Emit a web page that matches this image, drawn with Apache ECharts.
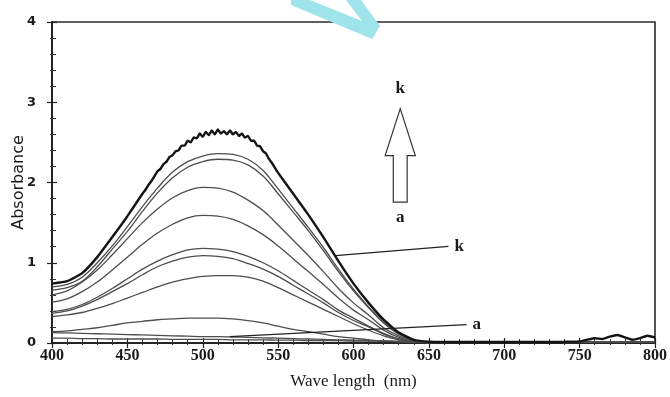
<!DOCTYPE html>
<html>
<head>
<meta charset="utf-8">
<script src="https://cdn.jsdelivr.net/npm/echarts@6/dist/echarts.min.js"></script>
<style>
  html, body { margin: 0; padding: 0; background: #fff; }
  #chart { width: 670px; height: 397px; }
</style>
</head>
<body>
<div id="chart"></div>
<script>
// Wavelength grid (nm) shared by the titration spectra a..j
const wave = [400,410,420,430,440,450,460,470,480,490,500,510,520,530,540,550,560,570,580,590,600,610,620,630,640,650,700,750,800];

// Absorbance of each spectrum, lowest (a) to highest (j)
const specA = [0.13,0.125,0.12,0.115,0.11,0.105,0.10,0.095,0.09,0.085,0.08,0.08,0.075,0.07,0.065,0.06,0.055,0.05,0.045,0.04,0.035,0.03,0.025,0.02,0.015,0.012,0.01,0.01,0.01];
const specB = [0.06,0.06,0.055,0.055,0.05,0.05,0.05,0.05,0.045,0.045,0.045,0.045,0.04,0.04,0.04,0.035,0.035,0.03,0.03,0.03,0.025,0.025,0.02,0.02,0.015,0.012,0.01,0.01,0.01];
const specC = [0.14,0.15,0.17,0.19,0.22,0.25,0.27,0.29,0.30,0.31,0.31,0.31,0.30,0.28,0.25,0.21,0.17,0.14,0.11,0.08,0.06,0.04,0.025,0.015,0.01,0.005,0.01,0.01,0.01];
const specD = [0.33,0.35,0.38,0.43,0.49,0.56,0.63,0.70,0.76,0.80,0.83,0.84,0.84,0.82,0.77,0.69,0.60,0.51,0.42,0.33,0.24,0.16,0.09,0.04,0.013,0.005,0.01,0.01,0.01];
const specE = [0.37,0.40,0.46,0.54,0.64,0.74,0.85,0.95,1.02,1.07,1.09,1.08,1.05,0.99,0.92,0.83,0.72,0.61,0.50,0.38,0.28,0.20,0.11,0.05,0.016,0.005,0.01,0.01,0.01];
const specF = [0.39,0.42,0.48,0.57,0.68,0.80,0.92,1.02,1.10,1.16,1.18,1.17,1.14,1.08,1.00,0.90,0.78,0.66,0.54,0.41,0.31,0.21,0.12,0.05,0.018,0.006,0.01,0.01,0.01];
const specG = [0.51,0.55,0.64,0.76,0.91,1.07,1.23,1.37,1.48,1.56,1.59,1.58,1.54,1.46,1.35,1.21,1.05,0.89,0.73,0.56,0.41,0.29,0.16,0.07,0.024,0.008,0.01,0.01,0.01];
const specH = [0.60,0.65,0.76,0.91,1.10,1.30,1.50,1.67,1.81,1.90,1.94,1.93,1.88,1.78,1.65,1.47,1.28,1.09,0.89,0.68,0.50,0.35,0.19,0.09,0.03,0.01,0.01,0.01,0.01];
const specI = [0.66,0.69,0.77,0.95,1.17,1.39,1.64,1.87,2.06,2.19,2.26,2.29,2.28,2.22,2.08,1.86,1.63,1.40,1.15,0.89,0.65,0.44,0.25,0.11,0.034,0.014,0.012,0.012,0.012];
const specJ = [0.70,0.73,0.82,1.00,1.21,1.45,1.70,1.93,2.13,2.26,2.33,2.36,2.35,2.29,2.15,1.92,1.68,1.44,1.19,0.92,0.67,0.45,0.26,0.12,0.035,0.014,0.012,0.012,0.012];

// Final spectrum k, sampled finely (noisy near the maximum and in the far red)
const kWave = [400,410,420,430,440,450,460,462,464,466,468,470,472,474,476,478,480,482,484,486,488,490,492,494,496,498,500,502,504,506,508,510,512,514,516,518,520,522,524,526,528,530,532,534,536,538,540,542,544,546,548,550,560,570,580,590,600,610,620,630,640,650,660,700,740,750,755,760,765,770,775,780,785,790,795,800];
const kAbs  = [0.74,0.77,0.87,1.07,1.32,1.58,1.86,1.91,1.97,2.02,2.08,2.14,2.17,2.23,2.26,2.32,2.34,2.39,2.40,2.46,2.46,2.52,2.50,2.56,2.55,2.61,2.57,2.63,2.59,2.65,2.60,2.66,2.61,2.64,2.60,2.65,2.60,2.63,2.58,2.61,2.56,2.58,2.52,2.52,2.46,2.45,2.39,2.36,2.29,2.24,2.18,2.12,1.86,1.60,1.32,1.02,0.74,0.50,0.29,0.13,0.04,0.015,0.012,0.012,0.015,0.02,0.04,0.06,0.05,0.08,0.10,0.07,0.04,0.06,0.09,0.07];

// Axis ticks
const xTicks = { min: 400, max: 800, step: 50 };
const yTicks = { min: 0, max: 4, step: 1 };

// Curve labels with their leader lines: [start point on curve, end point near text]
const leaders = [
  { name: 'k', from: [588, 1.09], to: [663, 1.205] },
  { name: 'a', from: [518, 0.08], to: [675, 0.23] }
];

// Up arrow marking the direction of increasing absorbance (a -> k)
const arrowSpec = { x: 631, tip: 2.92, headBase: 2.335, tail: 1.755, headHalf: 10, shaftHalf: 4.6, topLabel: 'k', bottomLabel: 'a', topY: 3.17, bottomY: 1.565 };

const pairs = (xs, ys) => xs.map((x, i) => [x, ys[i]]);

const grayCurves = [specA, specB, specC, specD, specE, specF, specG, specH, specI, specJ];

const series = grayCurves.map((ys, idx) => ({
  type: 'line',
  name: 'spectrum-' + idx,
  data: pairs(wave, ys),
  showSymbol: false,
  smooth: 0.35,
  lineStyle: { color: '#4d4d4d', width: 1.3 },
  z: 2,
  silent: true
}));

series.push({
  type: 'line',
  name: 'spectrum-k',
  data: pairs(kWave, kAbs),
  showSymbol: false,
  smooth: 0.15,
  lineStyle: { color: '#141414', width: 2.4 },
  z: 3,
  silent: true
});

leaders.forEach(l => {
  series.push({
    type: 'line',
    name: l.name,
    data: [l.from, l.to],
    showSymbol: false,
    lineStyle: { color: '#222', width: 1.2 },
    z: 4,
    silent: true,
    endLabel: {
      show: true,
      formatter: l.name,
      distance: 6,
      fontFamily: 'Liberation Serif',
      fontSize: 17,
      fontWeight: 'bold',
      color: '#1a1a1a'
    }
  });
});

series.push({
  type: 'custom',
  name: 'arrow',
  data: [[arrowSpec.x, arrowSpec.tip]],
  silent: true,
  z: 5,
  renderItem: function (params, api) {
    const a = arrowSpec;
    const c = (x, y) => api.coord([x, y]);
    const pts = [
      c(a.x, a.tip),
      c(a.x + a.headHalf, a.headBase),
      c(a.x + a.shaftHalf, a.headBase),
      c(a.x + a.shaftHalf, a.tail),
      c(a.x - a.shaftHalf, a.tail),
      c(a.x - a.shaftHalf, a.headBase),
      c(a.x - a.headHalf, a.headBase)
    ];
    const top = c(a.x, a.topY);
    const bot = c(a.x, a.bottomY);
    const font = { fontFamily: 'Liberation Serif', fontSize: 17, fontWeight: 'bold', fill: '#1a1a1a', align: 'center', verticalAlign: 'middle' };
    return {
      type: 'group',
      children: [
        { type: 'polygon', shape: { points: pts }, style: { fill: '#fff', stroke: '#333', lineWidth: 1.2 } },
        { type: 'text', x: top[0], y: top[1], style: Object.assign({ text: a.topLabel }, font) },
        { type: 'text', x: bot[0], y: bot[1], style: Object.assign({ text: a.bottomLabel }, font) }
      ]
    };
  }
});

const chart = echarts.init(document.getElementById('chart'), null, { renderer: 'canvas' });

const xBase = {
  type: 'value',
  min: xTicks.min, max: xTicks.max, interval: xTicks.step,
  position: 'bottom',
  splitLine: { show: false },
  axisLine: { show: true, lineStyle: { color: '#222', width: 1.5 } }
};
const yBase = {
  type: 'value',
  min: yTicks.min, max: yTicks.max, interval: yTicks.step,
  position: 'left',
  splitLine: { show: false },
  axisLine: { show: true, lineStyle: { color: '#222', width: 1.5 } }
};

chart.setOption({
  animation: false,
  backgroundColor: '#fff',
  grid: {
    left: 52, right: 15, top: 22, bottom: 54,
    containLabel: false, outerBoundsMode: 'none',
    show: true, borderColor: '#2a2a2a', borderWidth: 1.6, backgroundColor: 'transparent'
  },
  xAxis: [
    Object.assign({}, xBase, {
      name: 'Wave length  (nm)',
      nameLocation: 'middle',
      nameGap: 30,
      nameTextStyle: { fontFamily: 'Liberation Serif', fontSize: 17, color: '#1a1a1a' },
      axisTick: { show: true, inside: false, length: 5, lineStyle: { color: '#222', width: 1.2 } },
      minorTick: { show: true, splitNumber: 5, length: 2, lineStyle: { color: '#333', width: 1 } },
      axisLabel: { margin: 5, fontFamily: 'Liberation Serif', fontSize: 16, fontWeight: 'bold', color: '#1a1a1a' }
    }),
    Object.assign({}, xBase, {
      axisTick: { show: true, inside: true, length: 5, lineStyle: { color: '#222', width: 1.2 } },
      minorTick: { show: true, splitNumber: 5, length: 4, lineStyle: { color: '#333', width: 1 } },
      axisLabel: { show: false }
    })
  ],
  yAxis: [
    Object.assign({}, yBase, {
      name: 'Absorbance',
      nameLocation: 'middle',
      nameGap: 25,
      nameMoveOverlap: false,
      nameTextStyle: { fontFamily: 'DejaVu Sans', fontSize: 16, color: '#1a1a1a' },
      axisTick: { show: true, inside: false, length: 5, lineStyle: { color: '#222', width: 1.2 } },
      minorTick: { show: true, splitNumber: 5, length: 2, lineStyle: { color: '#333', width: 1 } },
      axisLabel: { margin: 16, fontFamily: 'DejaVu Sans', fontSize: 13, fontWeight: 'bold', color: '#1a1a1a' }
    }),
    Object.assign({}, yBase, {
      axisTick: { show: true, inside: true, length: 5, lineStyle: { color: '#222', width: 1.2 } },
      minorTick: { show: true, splitNumber: 5, length: 4, lineStyle: { color: '#333', width: 1 } },
      axisLabel: { show: false }
    })
  ],
  graphic: [
    {
      type: 'polygon',
      z: 100,
      shape: { points: [[291,0],[310,0],[362,21],[346,0],[361,0],[380,26],[372,39],[291,5]] },
      style: { fill: '#9fe4ea' }
    }
  ],
  series: series
});
</script>
</body>
</html>
